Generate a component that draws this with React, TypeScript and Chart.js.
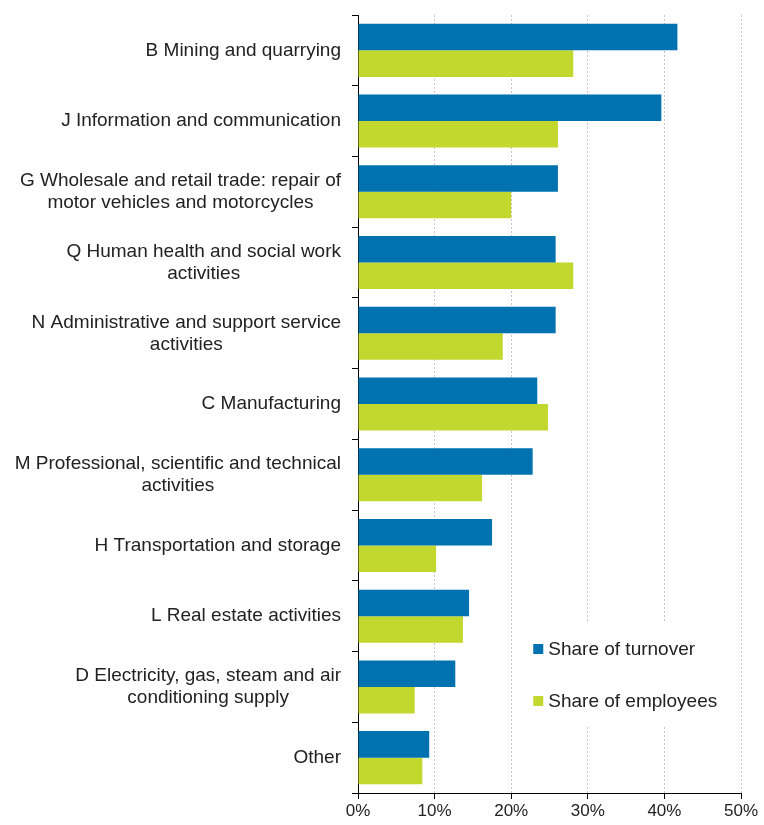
import React, { useEffect, useRef } from "react";
import { Chart, registerables } from "chart.js";

Chart.register(...registerables);

const categories: string[][] = [
  ["B Mining and quarrying"],
  ["J Information and communication"],
  ["G Wholesale and retail trade: repair of", "motor vehicles and motorcycles"],
  ["Q Human health and social work", "activities"],
  ["N Administrative and support service", "activities"],
  ["C Manufacturing"],
  ["M Professional, scientific and technical", "activities"],
  ["H Transportation and storage"],
  ["L Real estate activities"],
  ["D Electricity, gas, steam and air", "conditioning supply"],
  ["Other"],
];

const turnover = [41.7, 39.6, 26.1, 25.8, 25.8, 23.4, 22.8, 17.5, 14.5, 12.7, 9.3];
const employees = [28.1, 26.1, 20.0, 28.1, 18.9, 24.8, 16.2, 10.2, 13.7, 7.4, 8.4];

const seriesNames = ["Share of turnover", "Share of employees"];
const seriesColors = ["#0072B0", "#C2D82E"];
const xTicks = [0, 10, 20, 30, 40, 50];

const FONT = '"Liberation Sans", Arial, sans-serif';
const TEXT = "#222222";

const labelPlugin = {
  id: "customLabels",
  afterDraw(chart: any) {
    const ctx = chart.ctx;
    const yScale = chart.scales.y;
    const area = chart.chartArea;
    ctx.save();
    ctx.font = `19px ${FONT}`;
    ctx.fillStyle = TEXT;
    ctx.textBaseline = "middle";
    ctx.textAlign = "center";
    categories.forEach((lines, i) => {
      const cy = yScale.getPixelForValue(i);
      const maxW = Math.max(...lines.map((l) => ctx.measureText(l).width));
      const cx = area.left - 17 - maxW / 2;
      lines.forEach((l, j) => {
        ctx.fillText(l, cx, cy + (j - (lines.length - 1) / 2) * 22);
      });
    });

    // legend box inside plot
    const xs = chart.scales.x;
    const bx0 = xs.getPixelForValue(20.4);
    const bx1 = xs.getPixelForValue(49.5);
    const by0 = 623;
    const by1 = 727;
    ctx.fillStyle = "#ffffff";
    ctx.fillRect(bx0, by0, bx1 - bx0, by1 - by0);
    ctx.textAlign = "left";
    const mx = bx0 + 19;
    const rows = [649, 701];
    chart.data.datasets.forEach((ds: any, k: number) => {
      ctx.fillStyle = ds.backgroundColor;
      ctx.fillRect(mx, rows[k] - 5, 10, 10);
      ctx.fillStyle = TEXT;
      ctx.fillText(ds.label, mx + 15, rows[k] + 1);
    });
    ctx.restore();
  },
};

export default function App() {
  const ref = useRef<HTMLCanvasElement>(null);
  useEffect(() => {
    if (!ref.current) return;
    const chart = new Chart(ref.current, {
      type: "bar",
      data: {
        labels: categories.map((c) => c.join(" ")),
        datasets: [
          {
            label: seriesNames[0],
            data: turnover,
            backgroundColor: seriesColors[0],
            categoryPercentage: 0.75,
            barPercentage: 1.0,
          },
          {
            label: seriesNames[1],
            data: employees,
            backgroundColor: seriesColors[1],
            categoryPercentage: 0.75,
            barPercentage: 1.0,
          },
        ],
      },
      options: {
        indexAxis: "y",
        responsive: false,
        animation: false,
        layout: { padding: { top: 15, right: 23, left: 0, bottom: 0 } },
        plugins: {
          legend: { display: false },
          tooltip: { enabled: false },
        },
        scales: {
          x: {
            min: 0,
            max: 50,
            afterBuildTicks: (scale: any) => {
              scale.ticks = xTicks.map((v) => ({ value: v }));
            },
            afterFit: (scale: any) => {
              scale.height = 32;
            },
            ticks: {
              callback: (v: any) => `${v}%`,
              font: { family: FONT, size: 17 },
              color: TEXT,
              padding: 2,
            },
            grid: {
              color: "#c4c4c4",
              lineWidth: 1,
              drawTicks: true,
              tickLength: 6,
              tickColor: "#000000",
              tickBorderDash: [],
            },
            border: { display: true, color: "#000000", width: 1, dash: [2, 2] },
          },
          y: {
            afterFit: (scale: any) => {
              scale.width = 358;
            },
            ticks: { display: false },
            grid: {
              offset: true,
              drawOnChartArea: false,
              drawTicks: true,
              tickLength: 6,
              tickColor: "#000000",
            },
            border: { display: true, color: "#000000", width: 1 },
          },
        },
      },
      plugins: [labelPlugin],
    });
    return () => chart.destroy();
  }, []);
  return (
    <div style={{ position: "absolute", left: 0, top: 0, width: 764, height: 825, background: "#fff" }}>
      <canvas ref={ref} width={764} height={825} />
    </div>
  );
}
